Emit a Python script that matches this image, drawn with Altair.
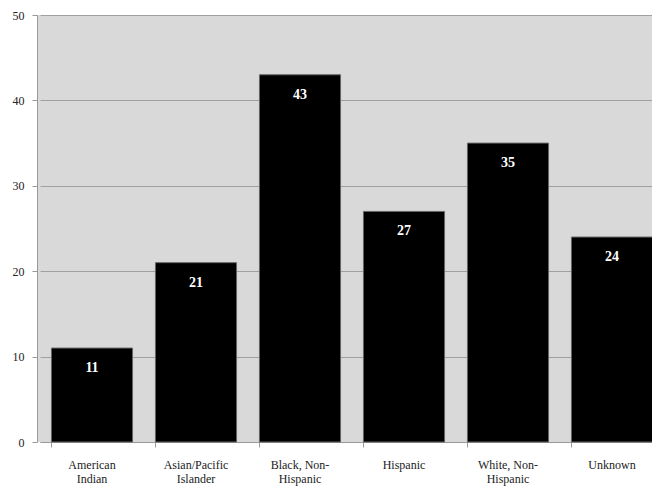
import altair as alt
import pandas as pd

categories = ["American\nIndian", "Asian/Pacific\nIslander", "Black, Non-\nHispanic",
              "Hispanic", "White, Non-\nHispanic", "Unknown"]
values = [11, 21, 43, 27, 35, 24]

df = pd.DataFrame({"cat": categories, "val": values})

SERIF = "Liberation Serif"

x = alt.X("cat:N", sort=categories, title=None,
          scale=alt.Scale(paddingInner=0.22, paddingOuter=0.11, range=[3, 627]),
          axis=alt.Axis(labelAngle=0, labelFont=SERIF, labelFontSize=12,
                        labelColor="#222", labelExpr="split(datum.label, '\\n')",
                        labelLineHeight=14, labelPadding=12, bandPosition=0,
                        ticks=True, tickSize=5, tickColor="#999", domainColor="#999",
                        grid=False))
y = alt.Y("val:Q", title=None,
          scale=alt.Scale(domain=[0, 50], nice=False),
          axis=alt.Axis(values=[0, 10, 20, 30, 40, 50], labelFont=SERIF,
                        labelFontSize=12, labelColor="#222", labelPadding=8,
                        tickSize=5, tickColor="#999", domainColor="#999",
                        gridColor="#a0a0a0", gridWidth=1))

bars = alt.Chart(df).mark_bar(color="black", stroke="#666", strokeWidth=1).encode(x=x, y=y)
labels = alt.Chart(df).mark_text(color="white", font=SERIF, fontSize=14,
                                 fontWeight="bold", baseline="middle", dy=20).encode(
    x=alt.X("cat:N", sort=categories), y="val:Q", text="val:Q")

chart = (bars + labels).properties(
    width=615, height=427,
    autosize=alt.AutoSizeParams(type="none"),
    padding={"left": 29, "top": 7, "right": 0, "bottom": 44},
).configure(background="white").configure_view(fill="#d9d9d9", stroke=None)

chart.save("out.html", embed_options={"renderer": "svg", "actions": False})
